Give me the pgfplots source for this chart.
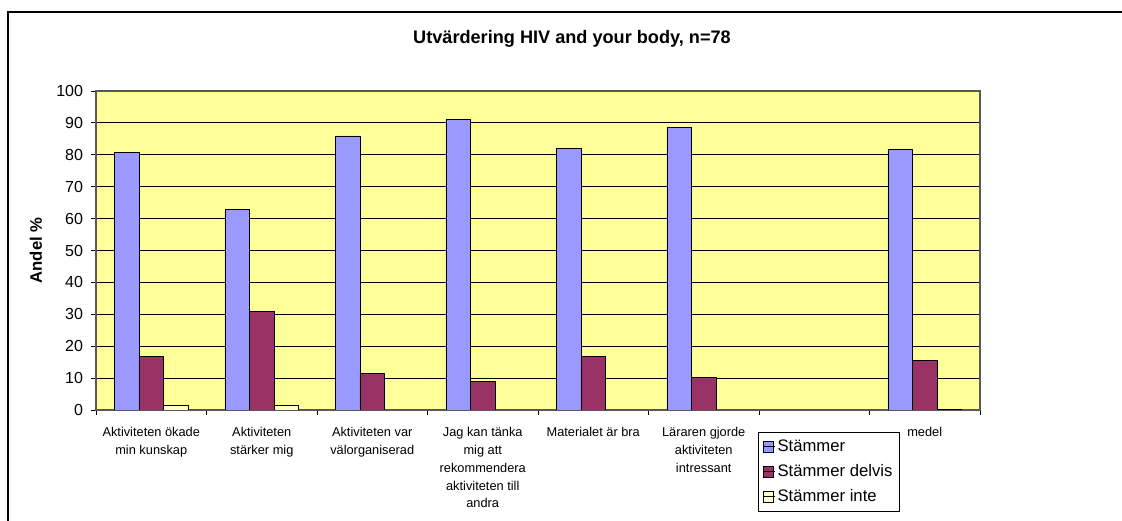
\documentclass[border=0pt]{standalone}
\usepackage{pgfplots}
\pgfplotsset{compat=1.18}
\usepackage{fontspec}
\setmainfont{Liberation Sans}
\definecolor{cBlue}{HTML}{9999FF}
\definecolor{cRed}{HTML}{993366}
\definecolor{cCream}{HTML}{FFFFCC}
\definecolor{cBg}{HTML}{FFFF99}
\begin{document}
\begin{tikzpicture}[x=0.75pt,y=0.75pt]
\useasboundingbox (0,0) rectangle (1122,521);
\draw[line width=1.5pt] (8,-5) -- (8,509) -- (1130,509);
\node[font=\bfseries\fontsize{13.6}{16}\selectfont] at (572,482) {Utvärdering HIV and your body, n=78};
\node[rotate=90, font=\bfseries\fontsize{12.5}{14}\selectfont] at (36,270.5) {Andel \%};
\begin{axis}[
  at={(72pt,83.25pt)}, anchor=south west,
  scale only axis, width=663pt, height=239.25pt,
  ymin=0, ymax=100, ytick={0,10,...,100},
  xmin=-0.5, xmax=7.5,
  xtick={0,...,7},
  xticklabels={{Aktiviteten ökade\\min kunskap},{Aktiviteten\\stärker mig},{Aktiviteten var\\välorganiserad},{Jag kan tänka\\mig att\\rekommendera\\aktiviteten till\\andra},{Materialet är bra},{Läraren gjorde\\aktiviteten\\intressant},{},{medel}},
  xticklabel style={align=center, font=\fontsize{9.6}{13.3}\selectfont, anchor=north, yshift=-6pt},
  yticklabel style={font=\fontsize{12}{14}\selectfont, xshift=-2.5pt},
  /pgf/number format/assume math mode=true,
  minor xtick={-0.5,0.5,...,7.5},
  major x tick style={draw=none},
  minor tick length=3.75pt, major tick length=3.75pt,
  tick align=outside, xtick pos=bottom, ytick pos=left,
  tick style={black, line width=0.6pt},
  ymajorgrids, grid style={black, line width=0.6pt},
  axis line style={draw=gray!70!black, line width=0.8pt},
  axis background/.style={fill=cBg},
  ybar=0pt, bar width=18.4pt,
  legend style={at={(0.749,-0.069)}, anchor=north west, draw=black, fill=white,
    font=\fontsize{12.5}{15}\selectfont, row sep=4.3pt, inner xsep=3pt, inner ysep=3.5pt, line width=0.6pt},
  legend cell align=left,
  legend image code/.code={\draw[#1, line width=0.6pt] (0pt,-4.1pt) rectangle (8.2pt,4.1pt); \path (0pt,0pt) -- (8.7pt,0pt);},
]
\addplot[fill=cBlue, draw=black, line width=0.6pt] coordinates {(0,80.8) (1,62.8) (2,85.9) (3,91.0) (4,82.1) (5,88.5) (7,81.6)};
\addplot[fill=cRed, draw=black, line width=0.6pt] coordinates {(0,16.7) (1,30.8) (2,11.4) (3,8.9) (4,16.7) (5,10.3) (7,15.6)};
\addplot[fill=cCream, draw=black, line width=0.6pt] coordinates {(0,1.3) (1,1.3) (7,0.3)};
\legend{Stämmer,Stämmer delvis,Stämmer inte}
\end{axis}
\end{tikzpicture}
\end{document}
